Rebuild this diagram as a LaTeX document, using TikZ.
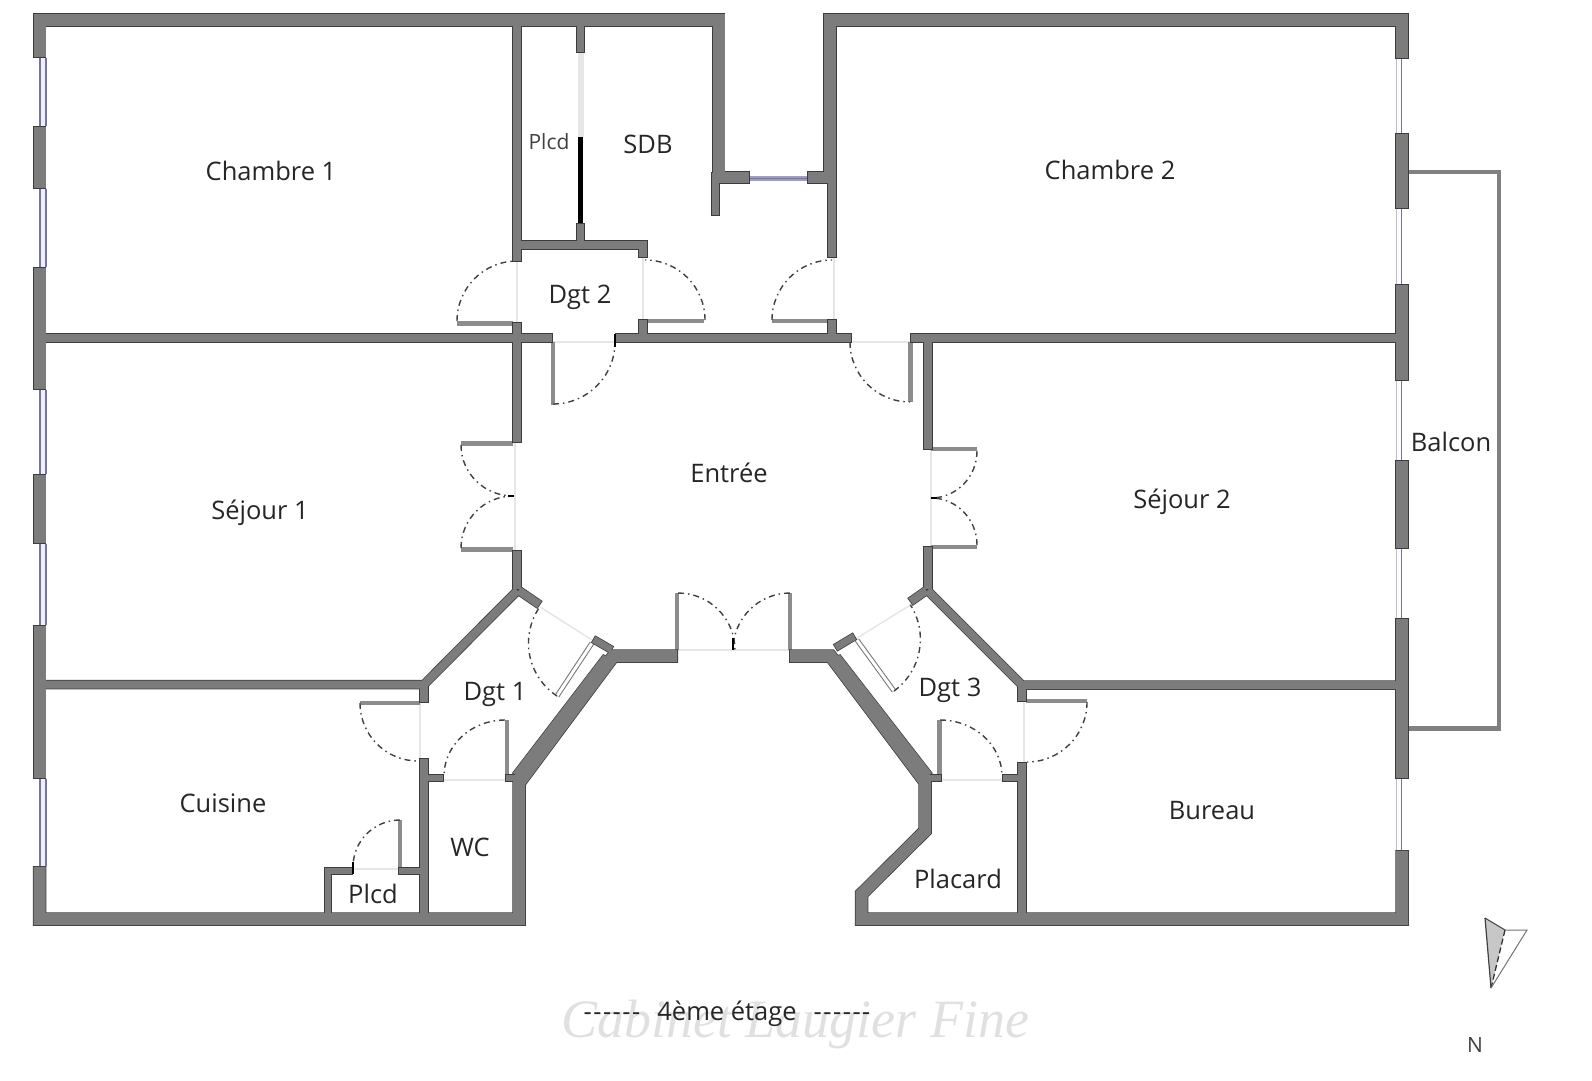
\documentclass[tikz,border=0pt]{standalone}
\usepackage{fontspec}
\setmainfont{Open Sans}
\newfontfamily\markfont{Liberation Serif}

\definecolor{wallgray}{HTML}{7C7C7C}
\definecolor{walledge}{HTML}{3C3C3C}
\definecolor{leafgray}{HTML}{8C8C8C}
\definecolor{sillgray}{HTML}{E6E6E6}
\definecolor{winblue}{HTML}{7474A4}
\definecolor{winlight}{HTML}{EEEEF4}

\tikzset{
    room/.style={font=\fontsize{25.5}{30}\selectfont, text=black!85},
    roomsmall/.style={font=\fontsize{21}{25}\selectfont, text=black!75},
    swing/.style={draw=black!75, line width=1.4pt, dash pattern=on 6pt off 4pt on 1.5pt off 4pt},
    leaf/.style={draw=leafgray, line width=4.5pt},
    leafdouble/.style={draw=black!55, line width=1pt, double=white, double distance=3pt},
    sill/.style={draw=sillgray, line width=1.5pt},
    doortick/.style={draw=black, line width=2pt},
    window/.style={draw=winblue, line width=1.3pt},
}

% walls are drawn twice: once dark and wider, once grey on top
\newcommand{\planwalls}[3]{%
    \begin{scope}[color=#1, line join=miter, shorten <=#3, shorten >=#3]
        \draw[line width=12pt+#2] (39.5,58) -- (39.5,20) -- (718.5,20) -- (718.5,183);
        \draw[line width=11pt+#2] (713,177.5) -- (750,177.5);
        \draw[line width=11pt+#2] (807,177.5) -- (832,177.5);
        \draw[line width=12pt+#2] (830,183) -- (830,20) -- (1402,20) -- (1402,59);
        \draw[line width=12pt+#2] (39.5,866) -- (39.5,919) -- (519,919) -- (519,783) -- (613.5,656) -- (678,656);
        \draw[line width=12pt+#2] (789,656) -- (830.5,656) -- (925,782) -- (925,831) -- (861.5,894) -- (861.5,919) -- (1402,919) -- (1402,850);
        % the two long slanted walls are wider
        \filldraw[line width=#2+0.01pt] (603.3,655) -- (616,661.7) -- (526,781.7) -- (513,773) -- cycle;
        \filldraw[line width=#2+0.01pt] (840,655) -- (828.3,660) -- (920,781.7) -- (931.7,773) -- cycle;
        % piers
        \foreach \a/\b in {126/189, 267/390, 474/544, 625/779}
            \draw[line width=12pt+#2] (39.5,\a) -- (39.5,\b);
        \foreach \a/\b in {133/209, 284/381, 460/549, 618/779}
            \draw[line width=12pt+#2] (1402,\a) -- (1402,\b);
        % partitions
        \draw[line width=8pt+#2] (517,20) -- (517,262);
        \draw[line width=8pt+#2] (517,322) -- (517,443);
        \draw[line width=8pt+#2] (517,550) -- (517,590);
        \draw[line width=8pt+#2] (40,338) -- (553,338);
        \draw[line width=8pt+#2] (615,338) -- (852,338);
        \draw[line width=8pt+#2] (910,338) -- (1400,338);
        \draw[line width=8pt+#2] (928,338) -- (928,450);
        \draw[line width=8pt+#2] (928,546) -- (928,590);
        \draw[line width=8pt+#2] (517,245) -- (643,245) -- (643,258);
        \draw[line width=8pt+#2] (643,319) -- (643,338);
        \draw[line width=8pt+#2] (832,172) -- (832,258);
        \draw[line width=8pt+#2] (832,319) -- (832,338);
        \draw[line width=8pt+#2] (40,684.5) -- (424,684.5) -- (518,590);
        \draw[line width=8pt+#2] (424,684.5) -- (424,703);
        \draw[line width=8pt+#2] (1400,685) -- (1022,685) -- (927,590);
        \draw[line width=8pt+#2] (1022,685) -- (1022,702);
        \draw[line width=8pt+#2] (424,758) -- (424,919);
        \draw[line width=8pt+#2] (1022,762) -- (1022,919);
        \draw[line width=6pt+#2] (424,778) -- (444,778);
        \draw[line width=6pt+#2] (505,778) -- (519,778);
        \draw[line width=6pt+#2] (925,778) -- (942,778);
        \draw[line width=6pt+#2] (1002,778) -- (1022,778);
        \draw[line width=8pt+#2] (518,590) -- (540,605);
        \draw[line width=8pt+#2] (927,590) -- (910,602);
        \draw[line width=7pt+#2] (593,639) -- (612,650);
        \draw[line width=7pt+#2] (855,636) -- (835,648);
        \draw[line width=7pt+#2] (580.5,20) -- (580.5,53);
        \draw[line width=7pt+#2] (580.5,223) -- (580.5,245);
        \draw[line width=7pt+#2] (715.5,172) -- (715.5,216);
        \draw[line width=6pt+#2] (328,919) -- (328,871) -- (353,871);
        \draw[line width=6pt+#2] (398,871) -- (424,871);
    \end{scope}
}

\begin{document}
\begin{tikzpicture}[x=1pt, y=-1pt]
    \useasboundingbox (0,0) rectangle (1592,1080);

    % watermark
    \node[text=black!12, font=\markfont\itshape\fontsize{54}{60}\selectfont] (watermark) at (795,1024) {Cabinet Laugier Fine};

    % windows
    \foreach \a/\b in {58/126, 189/267, 390/474, 544/625, 779/866} {
        \fill[winlight] (40,\a) rectangle (46,\b);
        \draw[window] (40,\a) -- (40,\b);
        \draw[window] (46,\a) -- (46,\b);
    }
    \foreach \a/\b in {59/133, 209/284, 381/460, 549/618, 779/850} {
        \draw[draw=black!25, line width=1pt] (1396.5,\a) -- (1396.5,\b);
        \draw[window] (1401.5,\a) -- (1401.5,\b);
    }
    \draw[draw=winblue!70, line width=5pt] (750,178.5) -- (807,178.5);
    \draw[draw=winblue, line width=1.2pt] (750,178.5) -- (807,178.5);

    % balcony
    \draw[draw=black!50, line width=4.5pt] (1408,172) -- (1499,172) -- (1499,728.5) -- (1408,728.5);

    % sills
    \draw[sill] (517,262) -- (517,322);
    \draw[sill] (643,258) -- (643,319);
    \draw[sill] (834,258) -- (834,319);
    \draw[sill] (553,342) -- (615,342);
    \draw[sill] (852,342) -- (910,342);
    \draw[sill] (515,443) -- (515,550);
    \draw[sill] (931,450) -- (931,546);
    \draw[sill] (678,650) -- (789,650);
    \draw[sill] (444,780) -- (505,780);
    \draw[sill] (942,780) -- (1002,780);
    \draw[sill] (420,703) -- (420,758);
    \draw[sill] (1024,702) -- (1024,762);
    \draw[sill] (353,869) -- (398,869);
    \draw[sill] (540,607) -- (592,640);
    \draw[sill] (912,604) -- (857,638);
    \draw[draw=sillgray, line width=6pt] (580.5,53) -- (580.5,137);

    % door leaves
    \draw[leaf] (457,323.5) -- (513,323.5);
    \draw[leaf] (647,321) -- (704,321);
    \draw[leaf] (772,321) -- (828,321);
    \draw[leaf] (553,342) -- (553,405);
    \draw[leaf] (910.5,342) -- (910.5,402);
    \draw[leaf] (461,443.5) -- (513,443.5);
    \draw[leaf] (461,549.5) -- (513,549.5);
    \draw[leaf] (931,449) -- (977,449);
    \draw[leaf] (931,547) -- (977,547);
    \draw[leaf] (677,593) -- (677,650);
    \draw[leaf] (790,593) -- (790,650);
    \draw[leaf] (360,703) -- (420,703);
    \draw[leaf] (507,720) -- (507,775);
    \draw[leaf] (1026,701) -- (1087,701);
    \draw[leaf] (939.5,720) -- (939.5,775);
    \draw[leaf] (400,820) -- (400,868);
    \draw[leafdouble] (592,643) -- (557,696);
    \draw[leafdouble] (857,640) -- (894,691);

    % door swings
    \draw[swing] (457,321) arc[start angle=180, end angle=270, radius=60];
    \draw[swing] (705,320) arc[start angle=0, end angle=-90, radius=60];
    \draw[swing] (772,320) arc[start angle=180, end angle=270, radius=60];
    \draw[swing] (553,404) arc[start angle=90, end angle=0, radius=62];
    \draw[swing] (850,342) arc[start angle=180, end angle=90, radius=60];
    \draw[swing] (461,445) arc[start angle=180, end angle=90, x radius=52, y radius=51];
    \draw[swing] (461,548) arc[start angle=180, end angle=270, x radius=52, y radius=52];
    \draw[swing] (977,451) arc[start angle=0, end angle=90, x radius=46, y radius=47];
    \draw[swing] (977,545) arc[start angle=0, end angle=-90, x radius=46, y radius=47];
    \draw[swing] (678,593) arc[start angle=270, end angle=360, radius=57];
    \draw[swing] (790,593) arc[start angle=270, end angle=180, radius=57];
    \draw[swing] (360,703) arc[start angle=180, end angle=90, radius=58];
    \draw[swing] (505,720) arc[start angle=270, end angle=180, x radius=61, y radius=56];
    \draw[swing] (1087,702) arc[start angle=0, end angle=90, radius=60];
    \draw[swing] (940,720) arc[start angle=270, end angle=360, x radius=62, y radius=56];
    \draw[swing] (400,820) arc[start angle=270, end angle=180, radius=47];
    \draw[swing] (557,696) arc[start angle=123.4, end angle=214.7, radius=63.5];
    \draw[swing] (894,691) arc[start angle=54, end angle=-32.5, radius=64];

    % walls
    \planwalls{walledge}{1.5pt}{0pt}
    \planwalls{wallgray}{0pt}{0.8pt}
    \draw[draw=black, line width=4.5pt] (580.5,137) -- (580.5,223);

    \draw[doortick] (615,334) -- (615,347);
    \draw[doortick] (353,862) -- (353,874);
    \draw[doortick] (733,638) -- (733,650);
    \draw[doortick] (508,496) -- (514,496);
    \draw[doortick] (931,498) -- (937,498);

    % compass
    \fill[black!22] (1485,918) -- (1505,930) -- (1491,988) -- cycle;
    \draw[draw=black!75, line width=1.2pt] (1485,918) -- (1491,988);
    \draw[draw=black!75, line width=1pt] (1485,918) -- (1505,930);
    \draw[draw=black!80, line width=1.3pt, dash pattern=on 6pt off 3pt] (1505,930) -- (1491,988);
    \draw[draw=black!55, line width=1pt] (1505,930) -- (1527,930) -- (1491,988);

    % rooms
    \node[room] (chambre1) at (271,171) {Chambre 1};
    \node[room] (chambre2) at (1110,170) {Chambre 2};
    \node[roomsmall] (plcdsdb) at (549,142) {Plcd};
    \node[room] (sdb) at (648,144) {SDB};
    \node[room] (dgt2) at (580,297) {Dgt 2};
    \node[room] (entree) at (729,473) {Entrée};
    \node[room] (sejour1) at (260,513) {Séjour 1};
    \node[room] (sejour2) at (1182,502) {Séjour 2};
    \node[room] (balcon) at (1451,442) {Balcon};
    \node[room] (dgt1) at (495,694) {Dgt 1};
    \node[room] (dgt3) at (950,690) {Dgt 3};
    \node[room] (cuisine) at (223,803) {Cuisine};
    \node[room] (wc) at (470,847) {WC};
    \node[room] (plcdcuisine) at (373,894) {Plcd};
    \node[room] (placard) at (958,879) {Placard};
    \node[room] (bureau) at (1212,811) {Bureau};
    \node[room] (etage) at (727,1014) {-\kern1.5pt-\kern1.5pt-\kern1.5pt-\kern1.5pt-\kern1.5pt-\hspace{17pt}4ème étage\hspace{17pt}-\kern1.5pt-\kern1.5pt-\kern1.5pt-\kern1.5pt-\kern1.5pt-};
    \node[roomsmall] (nord) at (1475,1045) {N};
\end{tikzpicture}
\end{document}
